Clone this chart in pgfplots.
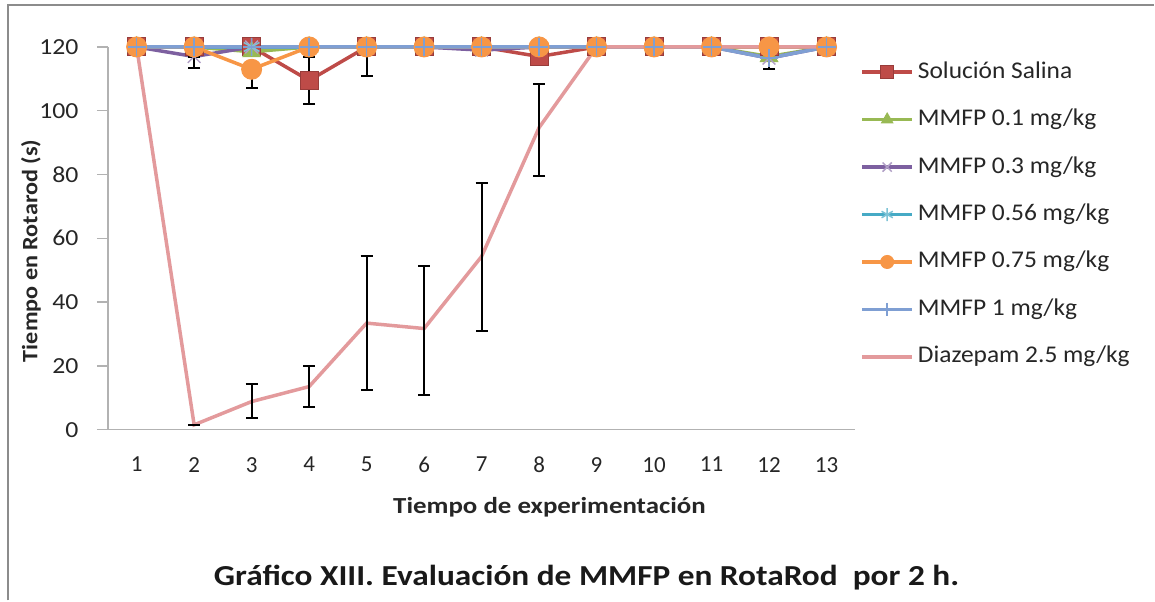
\documentclass[border=0pt]{standalone}
\usepackage{pgfplots}
\pgfplotsset{compat=1.18}
\usepackage{pgfplotstable}
\usepackage{fontspec}
\setmainfont{Carlito}
\usepackage{graphicx}
\definecolor{cSal}{HTML}{BE4B48}
\definecolor{cG}{HTML}{98B954}
\definecolor{cP}{HTML}{7D60A0}
\definecolor{cC}{HTML}{46AAC5}
\definecolor{cO}{HTML}{F79646}
\definecolor{cB}{HTML}{7F9FD3}
\definecolor{cD}{HTML}{E39A9C}
\newcommand\hs[2]{\scalebox{#1}[1]{#2}}

% x y ep em
\pgfplotstableread{
x y ep em
1 120 0 0
2 120 0 0
3 120 0 0
4 109.5 7.5 7.5
5 120 0 0
6 120 0 0
7 120 0 0
8 117 0 0
9 120 0 0
10 120 0 0
11 120 0 0
12 120 0 0
13 120 0 0
}\tSal
\pgfplotstableread{
x y ep em
1 120 0 0
2 120 0 0
3 118.5 0 0
4 120 0 0
5 120 0 9
6 120 0 0
7 120 0 0
8 120 0 0
9 120 0 0
10 120 0 0
11 120 0 0
12 117 0 0
13 120 0 0
}\tG
\pgfplotstableread{
x y ep em
1 120 0 0
2 117 0 3.5
3 120 0 0
4 120 0 0
5 120 0 0
6 120 0 0
7 119 0 0
8 120 0 0
9 120 0 0
10 120 0 0
11 120 0 0
12 116.5 0 0
13 120 0 0
}\tP
\pgfplotstableread{
x y ep em
1 120 0 0
2 120 0 0
3 120 0 0
4 120 0 0
5 120 0 0
6 120 0 0
7 120 0 0
8 120 0 0
9 120 0 0
10 120 0 0
11 120 0 0
12 120 0 0
13 120 0 0
}\tC
\pgfplotstableread{
x y ep em
1 120 0 0
2 120 0 0
3 113 0 6
4 120 0 0
5 120 0 0
6 120 0 0
7 120 0 0
8 120 0 0
9 120 0 0
10 120 0 0
11 120 0 0
12 120 0 0
13 120 0 0
}\tO
\pgfplotstableread{
x y ep em
1 120 0 0
2 120 0 0
3 120 0 0
4 120 0 0
5 120 0 0
6 120 0 0
7 120 0 0
8 120 0 0
9 120 0 0
10 120 0 0
11 120 0 0
12 116.5 0 3.5
13 120 0 0
}\tB
\pgfplotstableread{
x y ep em
1 120 0 0
2 1.5 0 0
3 8.8 5.6 5.1
4 13.5 6.3 6.5
5 33.4 21.1 20.9
6 31.7 19.7 20.7
7 54.3 23 23.3
8 94.7 13.8 15.1
9 120 0 0
10 120 0 0
11 120 0 0
12 120 0 0
13 120 0 0
}\tD

\begin{document}
\begin{tikzpicture}[x=1pt,y=1pt]
\path (0,0) rectangle (1155,602);
\draw[color=black!45, line width=2pt] (8,1) -- (8,597) -- (1155,597);
\begin{axis}[
  at={(108pt,172pt)}, anchor=south west,
  scale only axis, width=748pt, height=383pt,
  xmin=0.5, xmax=13.5, ymin=0, ymax=120,
  clip=false,
  axis x line*=bottom, axis y line*=left,
  axis line style={black!30, line width=1.5pt, -},
  xtick={1,...,13}, ytick={0,20,...,120},
  x tick style={draw=none},
  y tick style={black!30, line width=1.5pt},
  major tick length=11pt,
  tick align=outside,
  yticklabel={\hs{1.12}{\pgfmathprintnumber{\tick}}},
  xticklabel={\hs{1.0}{\pgfmathprintnumber{\tick}}},
  /pgf/number format/assume math mode=true,
  tick label style={font=\fontsize{23}{26}\selectfont, text=black!85},
  yticklabel style={xshift=-15pt},
  xticklabel style={yshift=-13pt},
  legend cell align=left,
  legend style={at={(1,1)}, anchor=north west, xshift=2pt, yshift=-11pt,
    draw=none, fill=none, font=\fontsize{24}{26}\selectfont,
    nodes={inner sep=0pt, text height=18pt, text depth=6pt, text=black!85},
    row sep=23.5pt,
    /tikz/every odd column/.append style={column sep=4pt}},
  legend image code/.code={\draw[mark repeat=2,mark phase=2,#1,mark size=6.5pt] plot coordinates {(0pt,0pt) (25pt,0pt) (50pt,0pt)};},
  every axis plot/.append style={line width=3.5pt},
  error bars/y dir=both, error bars/y explicit,
  error bars/error bar style={black, line width=2pt},
  error bars/error mark options={black, line width=2pt, mark size=6pt, rotate=90},
]
\addplot[cSal, mark=square*, mark size=9pt, mark options={fill=cSal, draw=cSal!80!black, line width=1pt}]
  table[x=x, y=y, y error plus=ep, y error minus=em] {\tSal};
\addlegendentry{\hs{1.06}{Solución Salina}}
\addplot[cG, mark=triangle*, mark size=10pt, mark options={fill=cG, draw=cG, line width=1pt}]
  table[x=x, y=y, y error plus=ep, y error minus=em] {\tG};
\addlegendentry{\hs{1.06}{MMFP 0.1 mg/kg}}
\addplot[cP, mark=x, mark size=9pt, mark options={line width=1.5pt, draw=cP!60!white}]
  table[x=x, y=y, y error plus=ep, y error minus=em] {\tP};
\addlegendentry{\hs{1.06}{MMFP 0.3 mg/kg}}
\addplot[cC, mark=asterisk, mark size=9pt, mark options={line width=1.5pt, draw=cC!70!white}]
  table[x=x, y=y, y error plus=ep, y error minus=em] {\tC};
\addlegendentry{\hs{1.06}{MMFP 0.56 mg/kg}}
\addplot[cO, mark=*, mark size=10pt, mark options={fill=cO, draw=cO, line width=1pt}]
  table[x=x, y=y, y error plus=ep, y error minus=em] {\tO};
\addlegendentry{\hs{1.06}{MMFP 0.75 mg/kg}}
\addplot[cB, mark=+, mark size=9pt, mark options={line width=1.5pt, draw=cB}]
  table[x=x, y=y, y error plus=ep, y error minus=em] {\tB};
\addlegendentry{\hs{1.06}{MMFP 1 mg/kg}}
\addplot[cD, no markers]
  table[x=x, y=y, y error plus=ep, y error minus=em] {\tD};
\addlegendentry{\hs{1.06}{Diazepam 2.5 mg/kg}}
\end{axis}
\node[font=\bfseries\fontsize{23}{26}\selectfont, text=black!85] at (550,94) {\hs{1.17}{Tiempo de experimentación}};
\node[font=\bfseries\fontsize{22}{25}\selectfont, text=black!85, rotate=90] at (31,351) {\hs{1.1}{Tiempo en Rotarod (s)}};
\node[font=\bfseries\fontsize{29}{32}\selectfont, text=black!90] at (587,24) {\hs{1.15}{Gráfico XIII. Evaluación de MMFP en RotaRod\ \ por 2 h.}};
\end{tikzpicture}
\end{document}
